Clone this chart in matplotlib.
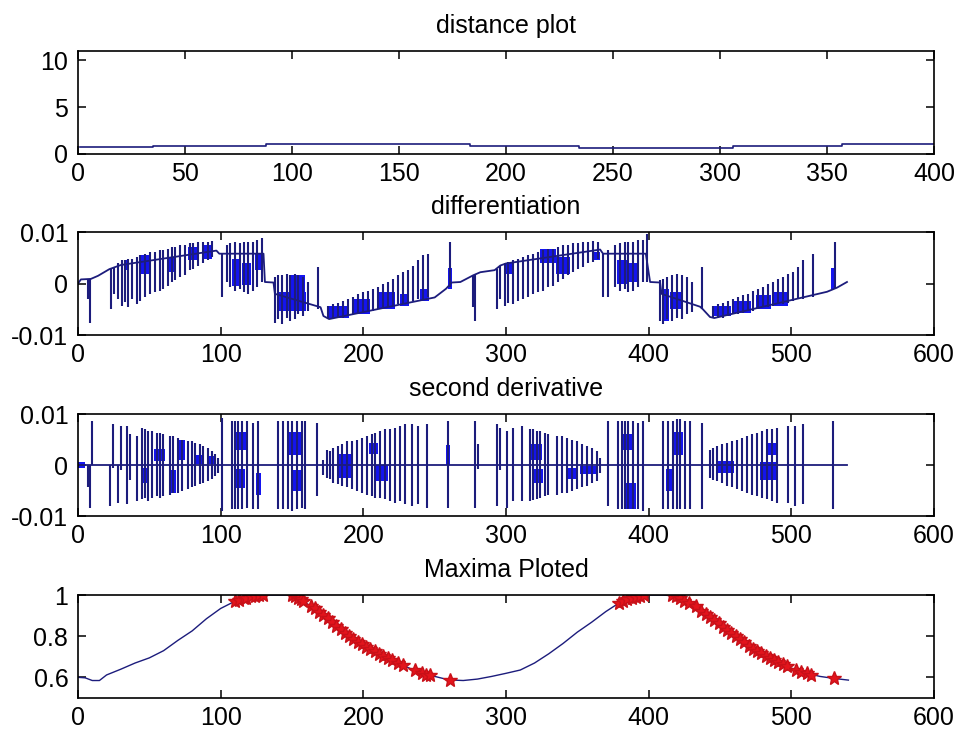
import matplotlib.pyplot as plt

plt.rcParams['font.family'] = ['Liberation Sans', 'DejaVu Sans']
plt.rcParams['font.size'] = 18

line_col = '#1c1c7c'
blk_col = '#1414f0'

# ---- distance plot (step levels) ----
dist_x = [1, 35, 88, 183, 234, 306, 357, 400]
dist_y = [0.78, 0.89, 1.07, 0.89, 0.61, 0.89, 1.07, 1.07]

# ---- differentiation: main trace ----
diff_x = [0, 2, 9, 14, 22, 30, 97, 99, 130, 131, 137, 138, 170, 172, 176, 250, 258, 262, 268,
          277, 282, 292, 296, 300, 366, 368, 398, 401, 408, 409, 436, 438, 443, 446, 525, 532, 539]
diff_y = [0.0, 0.0008, 0.0009, 0.0015, 0.0028, 0.0036, 0.0064, 0.0058, 0.0058, 0.0003, 0.0002,
          -0.0020, -0.0046, -0.0063, -0.0069, -0.0027, -0.0010, 0.0002, 0.0003,
          0.0016, 0.0022, 0.0026, 0.0035, 0.0039, 0.0066, 0.0058, 0.0058, 0.0003, 0.0002,
          -0.0020, -0.0045, -0.0050, -0.0065, -0.0067, -0.0016, -0.0008, 0.0003]

# differentiation spikes: position, bottom, top
diff_spk_x = [7.2, 8.4, 23.1, 25.5, 28.3, 30.6, 33.0, 35.3, 37.6, 41.1, 43.5, 47.0, 50.5, 54.0,
              57.5, 59.8, 63.3, 65.7, 68.0, 71.5, 75.0, 78.5, 80.9, 84.4, 87.9, 91.4, 93.7,
              100.7, 104.2, 106.6, 110.1, 113.6, 116.0, 119.4, 122.9, 125.3, 128.8,
              138.1, 140.5, 142.8, 146.3, 148.6, 152.1, 154.5, 158.0, 161.5, 168.5,
              175.5, 179.0, 182.5, 186.0, 189.5, 193.0, 196.5, 200.0, 203.5, 207.0, 210.6,
              214.0, 217.6, 221.0, 224.6, 228.0, 231.6, 235.0, 238.6, 242.0, 245.6, 260.8,
              277.0, 278.2, 293.4, 295.7, 299.2, 301.6, 305.1, 308.6, 312.1, 315.6, 319.1,
              322.6, 326.1, 329.6, 333.1, 336.6, 340.1, 343.7, 347.2, 350.7, 354.2, 357.7,
              361.2, 364.7,
              368.2, 371.7, 376.4, 379.9, 383.4, 385.7, 389.2, 392.7, 396.2, 398.6,
              407.9, 410.3, 412.6, 416.1, 419.6, 423.1, 426.6, 430.1, 437.1,
              445.3, 448.8, 452.3, 455.8, 459.3, 462.8, 466.3, 469.9, 473.4, 476.9, 480.4,
              483.9, 487.4, 490.9, 494.4, 497.9, 501.4, 504.9, 508.4, 515.4, 530.6]
diff_spk_lo = [-0.0030, -0.0076, -0.0050, -0.0020, -0.0030, -0.0043, -0.0035, -0.0046, -0.0030,
               -0.0040, -0.0033, -0.0027, -0.0020, -0.0017, -0.0014, -0.0010, -0.0004, 0.0003,
               0.0006, 0.0012, 0.0016, 0.0026, 0.0029, 0.0035, 0.0039, 0.0045, 0.0052,
               -0.0027, 0.0003, -0.0007, -0.0014, -0.0010, -0.0017, -0.0020, -0.0014, -0.0007, 0.0003,
               -0.0076, -0.0069, -0.0079, -0.0066, -0.0073, -0.0069, -0.0060, -0.0063, -0.0053, -0.0050,
               -0.0069, -0.0069, -0.0066, -0.0066, -0.0063, -0.0060, -0.0060, -0.0057, -0.0053,
               -0.0053, -0.0050, -0.0046, -0.0046, -0.0043, -0.0040, -0.0040, -0.0037, -0.0033,
               -0.0030, -0.0030, -0.0027, -0.0007,
               -0.0046, -0.0073, -0.0050, -0.0030, -0.0043, -0.0037, -0.0040, -0.0033, -0.0030,
               -0.0027, -0.0020, -0.0017, -0.0014, -0.0007, -0.0004, 0.0003, 0.0009, 0.0016,
               0.0022, 0.0029, 0.0032, 0.0039, 0.0042, 0.0048,
               -0.0027, -0.0027, -0.0007, -0.0014, -0.0010, -0.0017, -0.0014, -0.0007, 0.0003, 0.0003,
               -0.0073, -0.0079, -0.0069, -0.0073, -0.0066, -0.0069, -0.0060, -0.0056, -0.0050,
               -0.0066, -0.0066, -0.0066, -0.0063, -0.0060, -0.0060, -0.0057, -0.0053, -0.0053,
               -0.0050, -0.0046, -0.0046, -0.0043, -0.0040, -0.0040, -0.0037, -0.0033, -0.0030,
               -0.0030, -0.0027, -0.0010]
diff_spk_hi = [0.0009, 0.0009, 0.0028, 0.0030, 0.0040, 0.0045, 0.0045, 0.0048, 0.0048, 0.0052,
               0.0055, 0.0058, 0.0061, 0.0061, 0.0065, 0.0065, 0.0068, 0.0071, 0.0071, 0.0075,
               0.0075, 0.0078, 0.0078, 0.0081, 0.0081, 0.0081, 0.0083,
               0.0058, 0.0075, 0.0078, 0.0081, 0.0078, 0.0081, 0.0081, 0.0081, 0.0084, 0.0088,
               0.0012, 0.0016, 0.0016, 0.0019, 0.0016, 0.0019, 0.0016, 0.0012, 0.0003, 0.0032,
               -0.0043, -0.0040, -0.0037, -0.0033, -0.0030, -0.0027, -0.0020, -0.0017, -0.0014,
               -0.0010, -0.0007, -0.0001, 0.0003, 0.0009, 0.0016, 0.0022, 0.0026, 0.0035, 0.0045,
               0.0055, 0.0058, 0.0081,
               0.0016, 0.0016, 0.0028, 0.0035, 0.0039, 0.0042, 0.0045, 0.0048, 0.0052, 0.0055,
               0.0058, 0.0061, 0.0065, 0.0068, 0.0068, 0.0071, 0.0075, 0.0075, 0.0078, 0.0078,
               0.0081, 0.0081, 0.0083, 0.0081,
               0.0058, 0.0065, 0.0075, 0.0078, 0.0081, 0.0081, 0.0081, 0.0084, 0.0084, 0.0097,
               0.0006, 0.0009, 0.0012, 0.0016, 0.0019, 0.0016, 0.0012, 0.0003, 0.0032,
               -0.0043, -0.0040, -0.0037, -0.0033, -0.0030, -0.0027, -0.0023, -0.0020, -0.0014,
               -0.0010, -0.0007, 0.0000, 0.0003, 0.0009, 0.0012, 0.0019, 0.0022, 0.0032, 0.0045,
               0.0058, 0.0081]

# differentiation: dense (filled-looking) clusters
diff_blk_x0 = [33, 43, 63, 77, 88, 108, 115, 124, 140, 149, 176, 193, 210, 226, 240, 259,
               300, 324, 335, 361, 378, 386, 410, 415, 446, 460, 475, 488, 528]
diff_blk_x1 = [36, 51, 68, 84, 94, 113, 121, 129, 160, 159, 190, 205, 222, 232, 246, 262,
               305, 335, 345, 366, 385, 393, 414, 424, 458, 472, 486, 498, 531]
diff_blk_lo = [0.0026, 0.0019, 0.0022, 0.0045, 0.0048, -0.0004, -0.0002, 0.0026, -0.0053, -0.0020,
               -0.0066, -0.0060, -0.0050, -0.0043, -0.0033, -0.0010,
               0.0019, 0.0039, 0.0019, 0.0045, 0.0000, 0.0003, -0.0073, -0.0050,
               -0.0063, -0.0057, -0.0050, -0.0043, -0.0010]
diff_blk_hi = [0.0045, 0.0055, 0.0052, 0.0071, 0.0075, 0.0048, 0.0040, 0.0058, -0.0017, 0.0016,
               -0.0043, -0.0030, -0.0017, -0.0020, -0.0010, 0.0030,
               0.0039, 0.0068, 0.0052, 0.0061, 0.0045, 0.0040, -0.0010, -0.0017,
               -0.0043, -0.0033, -0.0023, -0.0017, 0.0030]

# ---- second derivative ----
sd_x = [0, 539]
sd_y = [0.0, 0.0]
sd_spk_x = [7.2, 8.4, 9.6, 22.4, 24.8, 28.3, 30.1, 34.1, 36.5, 41.1, 44.6, 47.0, 49.3, 52.1,
            55.2, 57.5, 59.8, 64.5, 66.8, 70.3, 72.7, 77.4, 79.7, 82.0, 85.5, 87.9, 91.4, 93.7,
            96.1, 98.4,
            100.7, 107.7, 110.1, 112.4, 114.8, 118.3, 122.9, 126.4,
            140.5, 144.0, 147.5, 149.8, 153.3, 156.8, 159.1, 167.3,
            172.0, 174.3, 176.7, 179.0, 182.5, 184.9, 188.4, 191.9, 195.4, 198.9, 202.4, 205.9,
            208.2, 211.7, 215.2, 218.8, 222.3, 225.8, 229.3, 234.0, 238.6, 244.5, 259.6,
            278.2, 280.6, 293.4, 295.7, 300.4, 305.1, 311.0, 316.8, 319.1, 321.5, 323.8, 327.3,
            329.6, 335.5, 339.0, 342.5, 346.0, 349.5, 353.0, 356.5, 360.0, 363.5, 365.9,
            371.7, 378.7, 381.0, 383.4, 385.7, 389.2, 392.7, 396.2,
            410.3, 413.8, 417.3, 419.6, 422.0, 425.5, 429.0, 437.1,
            443.0, 445.3, 447.7, 451.2, 454.7, 458.2, 461.7, 465.2, 468.7, 472.2, 475.7, 479.2,
            482.7, 486.2, 489.7, 497.9, 502.6, 508.4, 529.5]
sd_spk_lo = [-0.0044, -0.0084, 0.0, -0.0080, -0.0005, -0.0074, -0.0010, -0.0077, -0.0030, -0.0071,
             -0.0067, -0.0064, -0.0071, -0.0064, -0.0061, -0.0064, -0.0061, -0.0058, -0.0054,
             -0.0054, -0.0051, -0.0048, -0.0044, -0.0041, -0.0038, -0.0035, -0.0031, -0.0028,
             -0.0022, -0.0015,
             -0.0090, -0.0087, -0.0087, -0.0087, -0.0087, -0.0084, -0.0087, -0.0087,
             -0.0087, -0.0087, -0.0087, -0.0090, -0.0087, -0.0084, -0.0087, -0.0061,
             -0.0020, -0.0025, -0.0028, -0.0035, -0.0038, -0.0041, -0.0044, -0.0048, -0.0051,
             -0.0054, -0.0058, -0.0061, -0.0064, -0.0064, -0.0067, -0.0071, -0.0074, -0.0071,
             -0.0077, -0.0080, -0.0077, -0.0084, -0.0084,
             -0.0084, -0.0008, -0.0080, -0.0010, -0.0084, -0.0071, -0.0071, -0.0071, -0.0068,
             -0.0067, -0.0064, -0.0061, -0.0058, -0.0058, -0.0054, -0.0054, -0.0051, -0.0048,
             -0.0044, -0.0041, -0.0035, -0.0031, -0.0015,
             -0.0080, -0.0087, -0.0087, -0.0087, -0.0087, -0.0087, -0.0087, -0.0090,
             -0.0087, -0.0087, -0.0087, -0.0087, -0.0087, -0.0087, -0.0087, -0.0087,
             -0.0025, -0.0030, -0.0031, -0.0035, -0.0041, -0.0044, -0.0048, -0.0051, -0.0054,
             -0.0058, -0.0061, -0.0064, -0.0067, -0.0071, -0.0074, -0.0074, -0.0080, -0.0077,
             -0.0087]
sd_spk_hi = [0.0, 0.0, 0.0086, 0.0, 0.0080, 0.0, 0.0076, 0.0076, 0.0060, 0.0057, 0.0073, 0.0070,
             0.0067, 0.0067, 0.0063, 0.0063, 0.0060, 0.0057, 0.0057, 0.0053, 0.0050, 0.0047,
             0.0047, 0.0044, 0.0041, 0.0037, 0.0034, 0.0027, 0.0021, 0.0014,
             0.0093, 0.0086, 0.0086, 0.0086, 0.0086, 0.0086, 0.0083, 0.0086,
             0.0086, 0.0086, 0.0086, 0.0086, 0.0086, 0.0086, 0.0086, 0.0083,
             0.0010, 0.0030, 0.0027, 0.0034, 0.0037, 0.0041, 0.0047, 0.0047, 0.0050, 0.0053,
             0.0057, 0.0060, 0.0063, 0.0067, 0.0070, 0.0070, 0.0073, 0.0076, 0.0080, 0.0080,
             0.0076, 0.0080, 0.0086,
             0.0086, 0.0041, 0.0080, 0.0073, 0.0067, 0.0073, 0.0076, 0.0070, 0.0070, 0.0067,
             0.0067, 0.0063, 0.0060, 0.0057, 0.0057, 0.0053, 0.0050, 0.0047, 0.0041, 0.0037,
             0.0034, 0.0027, 0.0014,
             0.0086, 0.0086, 0.0086, 0.0086, 0.0086, 0.0086, 0.0083, 0.0086,
             0.0086, 0.0086, 0.0086, 0.0090, 0.0090, 0.0086, 0.0086, 0.0083,
             0.0030, 0.0034, 0.0037, 0.0041, 0.0044, 0.0047, 0.0050, 0.0053, 0.0057, 0.0060,
             0.0063, 0.0067, 0.0070, 0.0070, 0.0073, 0.0076, 0.0076, 0.0080, 0.0086]
sd_blk_x0 = [0, 44, 53, 64, 70, 82, 91, 109, 111, 125, 148, 151, 183, 204, 208, 258,
             317, 318, 343, 352, 381, 383, 412, 418, 447, 478, 483]
sd_blk_x1 = [5, 50, 61, 69, 75, 88, 95, 117, 118, 128, 158, 158, 192, 210, 217, 261,
             325, 326, 350, 363, 388, 391, 418, 424, 460, 490, 490]
sd_blk_lo = [-0.0005, -0.0035, 0.0008, -0.0054, 0.0010, 0.0002, 0.0002, -0.0045, 0.0030, -0.0058,
             0.0020, -0.0050, -0.0025, 0.0021, -0.0031, 0.0000,
             0.0010, -0.0035, -0.0028, -0.0018, 0.0030, -0.0087, -0.0050, 0.0020,
             -0.0015, -0.0030, 0.0020]
sd_blk_hi = [0.0005, -0.0005, 0.0031, -0.0010, 0.0050, 0.0020, 0.0018, -0.0008, 0.0065, -0.0015,
             0.0065, -0.0010, 0.0021, 0.0044, 0.0000, 0.0040,
             0.0041, -0.0008, -0.0005, -0.0002, 0.0060, -0.0035, -0.0008, 0.0065,
             0.0008, 0.0005, 0.0044]

# ---- maxima plot ----
mx_x = [1, 5, 10, 15, 20, 30, 40, 50, 60, 70, 80, 90, 100, 110, 120, 130, 140, 150, 160, 170,
        180, 190, 200, 210, 220, 230, 240, 250, 260, 270, 280, 290, 300, 310, 320, 330, 340,
        350, 360, 370, 380, 390, 400, 410, 420, 430, 440, 450, 460, 470, 480, 490, 500, 510,
        520, 530, 540]
mx_y = [0.600, 0.598, 0.585, 0.585, 0.612, 0.640, 0.670, 0.695, 0.730, 0.780, 0.826, 0.885,
        0.935, 0.970, 0.992, 1.000, 1.000, 1.000, 0.960, 0.915, 0.858, 0.802, 0.757, 0.718,
        0.685, 0.652, 0.622, 0.605, 0.588, 0.585, 0.592, 0.605, 0.620, 0.636, 0.670, 0.715,
        0.765, 0.820, 0.868, 0.920, 0.965, 0.990, 1.000, 1.000, 0.995, 0.955, 0.905, 0.855,
        0.805, 0.752, 0.710, 0.675, 0.645, 0.622, 0.605, 0.595, 0.587]
pk_x = [110, 113, 116, 118, 121, 124, 127, 130, 150, 152, 154, 156, 158,
        163, 166, 169, 172, 175, 178, 181, 184, 187, 190, 193, 196, 199, 202, 205, 208, 211,
        214, 217, 220, 224, 228, 236, 241, 244, 247, 261,
        379, 382, 385, 388, 391, 394, 397, 416, 419, 422, 425, 428,
        433, 437, 440, 443, 446, 449, 452, 455, 458, 461, 464, 467, 470, 473, 476, 479, 482,
        485, 488, 491, 494, 497, 503, 507, 511, 514, 530]
pk_y = [0.970, 0.978, 0.985, 0.988, 0.993, 0.996, 0.998, 1.000, 1.000, 0.993, 0.987, 0.980, 0.972,
        0.948, 0.935, 0.920, 0.905, 0.888, 0.870, 0.852, 0.835, 0.818, 0.802, 0.788, 0.774,
        0.761, 0.750, 0.738, 0.726, 0.714, 0.703, 0.694, 0.685, 0.672, 0.660, 0.636, 0.620,
        0.614, 0.610, 0.588,
        0.962, 0.972, 0.980, 0.986, 0.991, 0.996, 1.000, 1.000, 0.993, 0.984, 0.973, 0.962,
        0.945, 0.922, 0.906, 0.892, 0.877, 0.862, 0.846, 0.830, 0.815, 0.800, 0.785, 0.770,
        0.752, 0.740, 0.728, 0.717, 0.706, 0.695, 0.685, 0.676, 0.665, 0.655, 0.638, 0.628,
        0.620, 0.614, 0.595]

fig = plt.figure(figsize=(9.61, 7.36), dpi=100)
left, width = 0.0812, 0.8907
ax1 = fig.add_axes([left, 0.7908, width, 0.1399])
ax2 = fig.add_axes([left, 0.5448, width, 0.1399])
ax3 = fig.add_axes([left, 0.2989, width, 0.1386])
ax4 = fig.add_axes([left, 0.0516, width, 0.1399])

ax1.plot(dist_x, dist_y, color=line_col, lw=1.2, drawstyle='steps-post')
ax1.set_xlim(0, 400)
ax1.set_ylim(0, 11)
ax1.set_xticks(range(0, 401, 50))
ax1.set_yticks([0, 5, 10])
ax1.set_title('distance plot', fontsize=18, pad=13)

for ax, bx0, bx1, blo, bhi, sx, slo, shi, lx, ly in [
        (ax2, diff_blk_x0, diff_blk_x1, diff_blk_lo, diff_blk_hi,
         diff_spk_x, diff_spk_lo, diff_spk_hi, diff_x, diff_y),
        (ax3, sd_blk_x0, sd_blk_x1, sd_blk_lo, sd_blk_hi,
         sd_spk_x, sd_spk_lo, sd_spk_hi, sd_x, sd_y)]:
    ax.bar(bx0, height=[h - l for l, h in zip(blo, bhi)],
           width=[b - a for a, b in zip(bx0, bx1)], bottom=blo,
           align='edge', color=blk_col, lw=0)
    ax.vlines(sx, slo, shi, color=line_col, lw=1.5)
    ax.plot(lx, ly, color=line_col, lw=1.3)
    ax.set_xlim(0, 600)
    ax.set_ylim(-0.01, 0.01)
    ax.set_xticks(range(0, 601, 100))
    ax.set_yticks([-0.01, 0, 0.01])
    ax.set_yticklabels(['-0.01', '0', '0.01'])
ax2.set_title('differentiation', fontsize=18, pad=13)
ax3.set_title('second derivative', fontsize=18, pad=13)

ax4.plot(mx_x, mx_y, color=line_col, lw=1.0)
ax4.plot(pk_x, pk_y, '*', color='#e3141c', ms=10, mec='#c81018')
ax4.set_xlim(0, 600)
ax4.set_ylim(0.5, 1.0)
ax4.set_xticks(range(0, 601, 100))
ax4.set_yticks([0.6, 0.8, 1.0])
ax4.set_yticklabels(['0.6', '0.8', '1'])
ax4.set_title('Maxima Ploted', fontsize=18, pad=13)

for ax in [ax1, ax2, ax3, ax4]:
    ax.tick_params(direction='in', top=True, right=True, length=6, width=1.1, labelsize=18)
    ax.tick_params(axis='x', pad=6)
    ax.tick_params(axis='y', pad=7)
    for s in ax.spines.values():
        s.set_linewidth(1.2)

fig.savefig('out.png', dpi=100)
